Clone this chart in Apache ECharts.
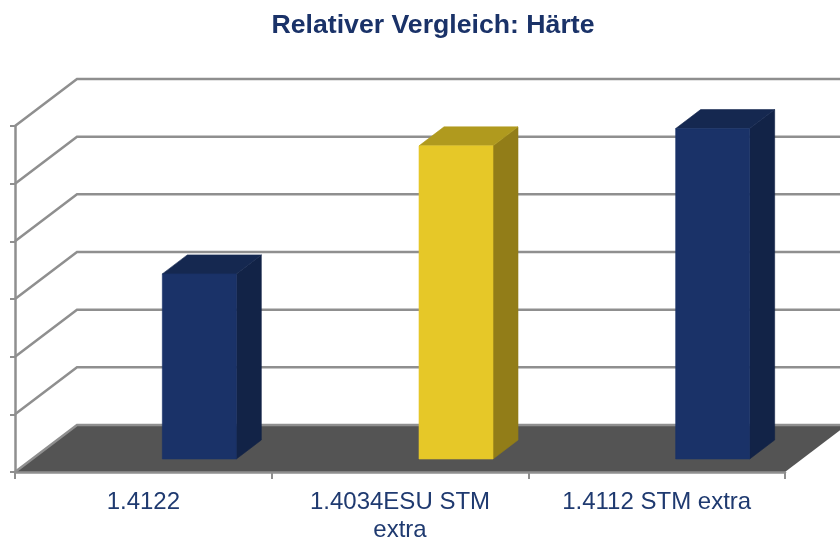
<!DOCTYPE html>
<html>
<head>
<meta charset="utf-8">
<title>Relativer Vergleich: Härte</title>
<script src="https://cdn.jsdelivr.net/npm/echarts@6/dist/echarts.min.js"></script>
<style>
  html, body { margin: 0; padding: 0; background: #fff; }
  #chart { width: 840px; height: 539px; }
</style>
</head>
<body>
<div id="chart"></div>
<script>
var categories = ['1.4122', '1.4034ESU STM\nextra', '1.4112 STM extra'];
var haerte = [3.21, 5.43, 5.73];
var yTicks = [0, 1, 2, 3, 4, 5, 6];

// Schraegprojektion wie im 3D-Diagramm
var wallDx = 62, wallDy = -47;
var barDx = 25, barDy = -19;
var barShiftX = 56, barShiftY = -13;
var barWidth = 74;

var blue = { front: '#1a3268', top: '#152850', side: '#122347' };
var yellow = { front: '#e6c828', top: '#b09a1e', side: '#927d18' };
var barColors = [blue, yellow, blue];
var gridColor = '#8f8f8f';

var myChart = echarts.init(document.getElementById('chart'));

function renderFloor(params, api) {
  var cs = params.coordSys;
  var y0 = api.coord([0, 0])[1];
  var x0 = cs.x, x1 = cs.x + cs.width;
  return {
    type: 'polygon',
    shape: { points: [[x0, y0], [x1, y0], [x1 + wallDx, y0 + wallDy], [x0 + wallDx, y0 + wallDy]] },
    style: { fill: '#545454' }
  };
}

function renderGridLine(params, api) {
  var cs = params.coordSys;
  var y = api.coord([0, api.value(1)])[1];
  var x0 = cs.x, x1 = cs.x + cs.width;
  return {
    type: 'polyline',
    shape: { points: [[x0, y], [x0 + wallDx, y + wallDy], [x1 + wallDx, y + wallDy]] },
    style: { fill: 'none', stroke: gridColor, lineWidth: 2.5 }
  };
}

function face(points, fill) {
  // gleiche Kontur, damit zwischen den Flaechen keine helle Naht bleibt
  return { type: 'polygon', shape: { points: points }, style: { fill: fill, stroke: fill, lineWidth: 0.6 } };
}

function renderBar(params, api) {
  var base = api.coord([api.value(0), 0]);
  var head = api.coord([api.value(0), api.value(1)]);
  var c = barColors[params.dataIndex];
  var l = base[0] + barShiftX - barWidth / 2;
  var r = l + barWidth;
  var b = base[1] + barShiftY;
  var t = head[1] + barShiftY;
  return {
    type: 'group',
    children: [
      face([[r, b], [r + barDx, b + barDy], [r + barDx, t + barDy], [r, t]], c.side),
      face([[l, t], [r, t], [r + barDx, t + barDy], [l + barDx, t + barDy]], c.top),
      face([[l, b], [r, b], [r, t], [l, t]], c.front)
    ]
  };
}

var option = {
  animation: false,
  backgroundColor: '#fff',
  title: {
    text: 'Relativer Vergleich: Härte',
    left: 428,
    top: 7,
    textAlign: 'center',
    textStyle: { color: '#1a3268', fontFamily: 'Liberation Sans', fontWeight: 'bold', fontSize: 26.67 }
  },
  grid: { left: 15, top: 126, width: 770, height: 346, outerBoundsMode: 'none' },
  xAxis: {
    type: 'category',
    data: categories,
    boundaryGap: true,
    axisLine: { lineStyle: { color: gridColor, width: 2.5 } },
    axisTick: { show: true, length: 7, lineStyle: { color: gridColor, width: 2 } },
    axisLabel: {
      interval: 0,
      margin: 16,
      color: '#1f3a70',
      fontFamily: 'Liberation Sans',
      fontSize: 24,
      lineHeight: 28
    },
    z: 5
  },
  yAxis: {
    type: 'value',
    min: 0,
    max: 6,
    interval: 1,
    axisLine: { show: true, lineStyle: { color: gridColor, width: 2.5 } },
    axisTick: { show: true, length: 5, lineStyle: { color: gridColor, width: 2 } },
    axisLabel: { show: false },
    splitLine: { show: false },
    z: 5
  },
  series: [
    { type: 'custom', silent: true, z: 1, renderItem: renderFloor, data: [[0, 0]] },
    { type: 'custom', silent: true, z: 2, renderItem: renderGridLine, data: yTicks.map(function (t) { return [0, t]; }) },
    { type: 'custom', silent: true, z: 6, renderItem: renderBar, data: haerte.map(function (v, i) { return [i, v]; }) }
  ]
};
myChart.setOption(option);
</script>
</body>
</html>
